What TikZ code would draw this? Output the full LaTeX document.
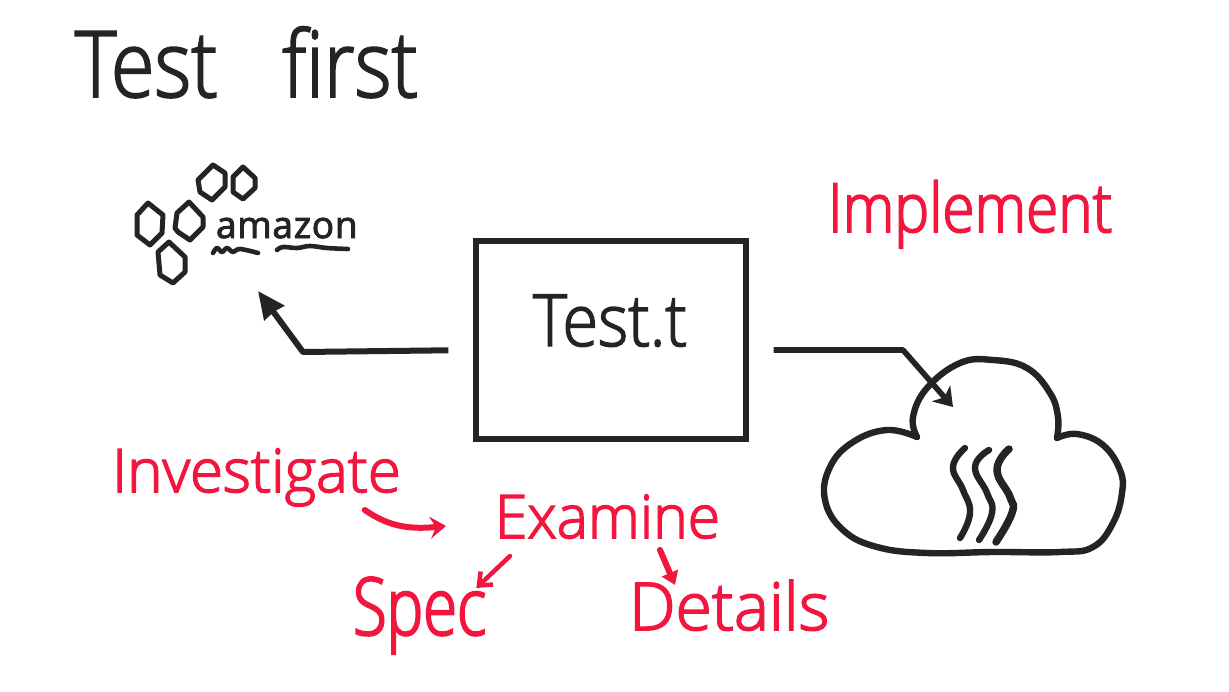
\documentclass[tikz,border=0pt]{standalone}
\usepackage{fontspec}
\setmainfont{Open Sans Light}
\newfontfamily\logofont{Open Sans}
\usetikzlibrary{arrows.meta}
\definecolor{ink}{HTML}{222524}
\definecolor{redink}{HTML}{F2163E}
\newcommand{\hand}[4]{\fontsize{#1}{#1}\selectfont\addfontfeature{LetterSpace=#2,FakeStretch=#3,FakeBold=#4}}
\tikzset{
  x=1pt,y=-1pt,
  inkline/.style={draw=ink,line width=6.4pt,line cap=round,line join=round},
  redline/.style={draw=redink,line width=6pt,line cap=round,line join=round},
  thinhex/.style={draw=ink,line width=5pt,line join=round},
  label/.style={inner sep=0pt,outer sep=0pt,anchor=base west,text=ink},
  redlabel/.style={label,text=redink},
  testbox/.style={draw=ink,line width=5.4pt,minimum width=270pt,minimum height=198pt,inner sep=0pt},
}
\begin{document}
\begin{tikzpicture}
\useasboundingbox (0,0) rectangle (1229,691);
\fill[white] (0,0) rectangle (1229,691);
% titles and labels
\node[label] (title) at (75,97) {\hand{92}{0}{.86}{2}Test\hspace{44pt} first};
\node[testbox] (box) at (611,340) {};
\node[label] (testt) at (533,346) {\hand{72}{0}{.9}{2}Test.t};
\node[redlabel] (impl) at (828,232) {\hand{68}{0}{.86}{2.5}Implement};
\node[redlabel] (inv) at (112,492) {\hand{60}{0}{1}{2.5}Investigate};
\node[redlabel] (exam) at (495,538) {\hand{60}{0}{.98}{2.5}Examine};
\node[redlabel] (spec) at (353,635) {\hand{80}{0}{.77}{2.5}Spec};
\node[redlabel] (det) at (629,630) {\hand{66}{0}{1}{2.5}Details};
\node[label] (amz) at (216,238) {\logofont\hand{37}{2}{1}{2.5}amazon};
% amazon logo
\draw[thinhex] (213,165)--(225,173)--(225,187)--(212,200)--(200,192)--(198,180)--cycle;
\draw[thinhex] (243,167)--(255,178)--(255,188)--(243,199)--(233,192)--(233,177)--cycle;
\draw[thinhex] (148,203)--(163,215)--(162,233)--(150,245)--(137,235)--(137,215)--cycle;
\draw[thinhex] (189,202)--(203,217)--(203,227)--(190,240)--(178,232)--(175,228)--(177,213)--cycle;
\draw[thinhex] (169,242)--(185,257)--(185,272)--(173,283)--(160,275)--(158,252)--cycle;
\draw[inkline,line width=4.6pt] plot[smooth,tension=.6] coordinates {(213,253)(217,248)(222,252)(227,248)(233,252)(240,249)(258,253)};
\draw[inkline,line width=4.6pt] plot[smooth,tension=.6] coordinates {(277,250)(283,247)(297,248)(310,246)(327,248)(348,249)};
% cloud
\draw[inkline] plot[smooth,tension=.7] coordinates {(917,437)(913,417)(927,388)(960,363)(993,360)(1027,368)(1050,393)(1058,417)(1057,438)};
\draw[inkline] plot[smooth,tension=.7] coordinates {(1057,438)(1077,434)(1103,445)(1120,470)(1122,493)(1113,523)(1093,547)(1060,552)(993,552)(927,553)(877,547)(843,530)(825,500)(830,467)(853,442)(887,430)(917,437)};
\coordinate (cloudin) at (953,407);
\coordinate (amzin) at (258,291);
\coordinate (bendL) at (303,352);
\coordinate (bendR) at (903,350);
\draw[inkline] plot[smooth,tension=.8] coordinates {(965,448)(953,467)(963,490)(970,513)(960,538)};
\draw[inkline] plot[smooth,tension=.8] coordinates {(989,450)(975,467)(987,493)(992,513)(979,540)};
\draw[inkline,line width=7.5pt] plot[smooth,tension=.8] coordinates {(1009,449)(997,470)(1010,497)(1012,513)(996,542)};
% connectors
\draw[inkline,line width=6pt,line cap=butt,shorten <=25pt,-{Stealth[length=27pt,width=24pt,inset=1pt]}] ([yshift=-10pt]box.west) -- (bendL) -- (amzin);
\draw[inkline,line width=5.6pt,line cap=butt,shorten <=25pt,-{Stealth[length=18pt,width=24pt,inset=5pt]}] ([yshift=-10pt]box.east) -- (bendR) -- (cloudin);
\draw[redline,-{Stealth[length=16pt,width=22pt,inset=6pt]}] ([shift={(-36pt,-18pt)}]inv.base east) .. controls +(22,15) and +(-40,4) .. ([shift={(-49pt,12pt)}]exam.base west);
\draw[redline,line width=4.5pt,-{Straight Barb[length=11pt,width=18pt]}] ([shift={(15pt,-18pt)}]exam.base west) -- ([shift={(-10pt,47pt)}]spec.base east);
\draw[redline,-{Stealth[length=13pt,width=17pt,inset=0pt]}] ([shift={(165pt,-12pt)}]exam.base west) -- ([shift={(46pt,45pt)}]det.base west);
\end{tikzpicture}
\end{document}
